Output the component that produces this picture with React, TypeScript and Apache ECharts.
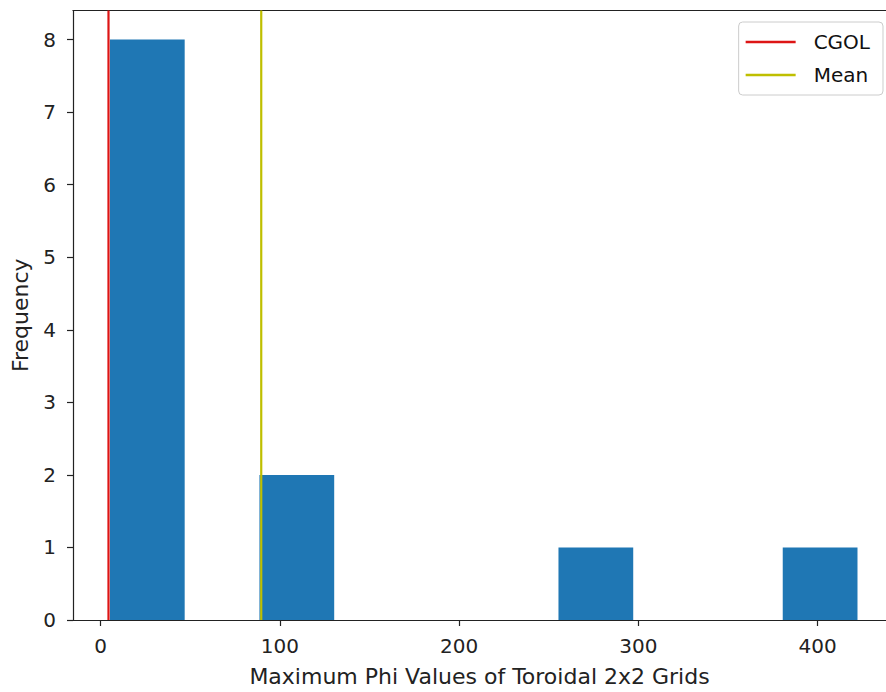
import React, { useEffect, useRef } from "react";
import * as echarts from "echarts";

// Histogram bin edges (10 bins) and counts
const binEdges = [5.2, 46.9, 88.6, 130.3, 172.0, 213.7, 255.4, 297.1, 338.8, 380.5, 422.2];
const counts = [8, 0, 2, 0, 0, 0, 1, 0, 0, 1];
const cgolValue = 4.4;
const meanValue = 89.6;
const xTicks = [0, 100, 200, 300, 400];
const yTicks = [0, 1, 2, 3, 4, 5, 6, 7, 8];
const xMin = -15.4;
const xMax = 438.1;
const yMax = 8.4;

const FONT = "DejaVu Sans";

export default function App() {
  const ref = useRef<HTMLDivElement>(null);
  useEffect(() => {
    if (!ref.current) return;
    const chart = echarts.init(ref.current, undefined, { renderer: "svg" });
    const barData = counts.map((c, i) => [binEdges[i], binEdges[i + 1], c]);
    chart.setOption({
      animation: false,
      backgroundColor: "#ffffff",
      textStyle: { fontFamily: FONT },
      grid: { left: 73, right: 0, top: 10.5, bottom: 69.5, containLabel: false },
      legend: {
        orient: "vertical",
        right: 3,
        top: 22,
        itemWidth: 50,
        itemHeight: 2.5,
        itemGap: 13,
        padding: [10, 13, 10, 7],
        backgroundColor: "rgba(255,255,255,0.85)",
        borderColor: "#cccccc",
        borderWidth: 1,
        borderRadius: 4,
        textStyle: { fontSize: 20, color: "#111", fontFamily: FONT, padding: [0, 0, 0, 13] },
        data: [
          { name: "CGOL", icon: "rect" },
          { name: "Mean", icon: "rect" },
        ],
      },
      xAxis: [
        {
          type: "value",
          min: xMin,
          max: xMax,
          name: "Maximum Phi Values of Toroidal 2x2 Grids",
          nameLocation: "middle",
          nameGap: 45,
          nameTextStyle: { fontSize: 22, color: "#222", fontFamily: FONT },
          axisLine: { show: true, onZero: false, lineStyle: { color: "#222", width: 1.2 } },
          axisTick: { show: true, inside: false, length: 6, customValues: xTicks, lineStyle: { color: "#222", width: 1.2 } },
          axisLabel: { customValues: xTicks, fontSize: 20, color: "#222", margin: 16, fontFamily: FONT },
          splitLine: { show: false },
        },
        {
          type: "value",
          position: "top",
          min: xMin,
          max: xMax,
          axisLine: { show: true, onZero: false, lineStyle: { color: "#222", width: 1.2 } },
          axisTick: { show: false },
          axisLabel: { show: false },
          splitLine: { show: false },
        },
      ],
      yAxis: {
        type: "value",
        min: 0,
        max: yMax,
        name: "Frequency",
        nameLocation: "middle",
        nameGap: 42,
        nameTextStyle: { fontSize: 22, color: "#222", fontFamily: FONT },
        axisLine: { show: true, onZero: false, lineStyle: { color: "#222", width: 1.2 } },
        axisTick: { show: true, inside: false, length: 6, customValues: yTicks, lineStyle: { color: "#222", width: 1.2 } },
        axisLabel: { customValues: yTicks, fontSize: 20, color: "#222", margin: 17, fontFamily: FONT },
        splitLine: { show: false },
      },
      series: [
        {
          type: "custom",
          name: "hist",
          xAxisIndex: 0,
          renderItem: (params: any, api: any) => {
            const x0 = api.value(0);
            const x1 = api.value(1);
            const c = api.value(2);
            if (!c) return null;
            const p0 = api.coord([x0, 0]);
            const p1 = api.coord([x1, c]);
            return {
              type: "rect",
              shape: { x: p0[0], y: p1[1], width: p1[0] - p0[0], height: p0[1] - p1[1] },
              style: { fill: "#1f77b4" },
            };
          },
          encode: { x: [0, 1], y: 2 },
          data: barData,
          z: 1,
        },
        {
          type: "line",
          name: "CGOL",
          xAxisIndex: 0,
          symbol: "none",
          color: "#dd1515",
          lineStyle: { color: "#dd1515", width: 2.2 },
          data: [[cgolValue, 0], [cgolValue, yMax]],
          z: 3,
        },
        {
          type: "line",
          name: "Mean",
          xAxisIndex: 0,
          symbol: "none",
          color: "#bfbf00",
          lineStyle: { color: "#bfbf00", width: 2.2 },
          data: [[meanValue, 0], [meanValue, yMax]],
          z: 3,
        },
      ],
    });
    return () => chart.dispose();
  }, []);
  return (
    <div
      ref={ref}
      style={{ position: "fixed", left: 0, top: 0, width: 886, height: 692 }}
    />
  );
}
